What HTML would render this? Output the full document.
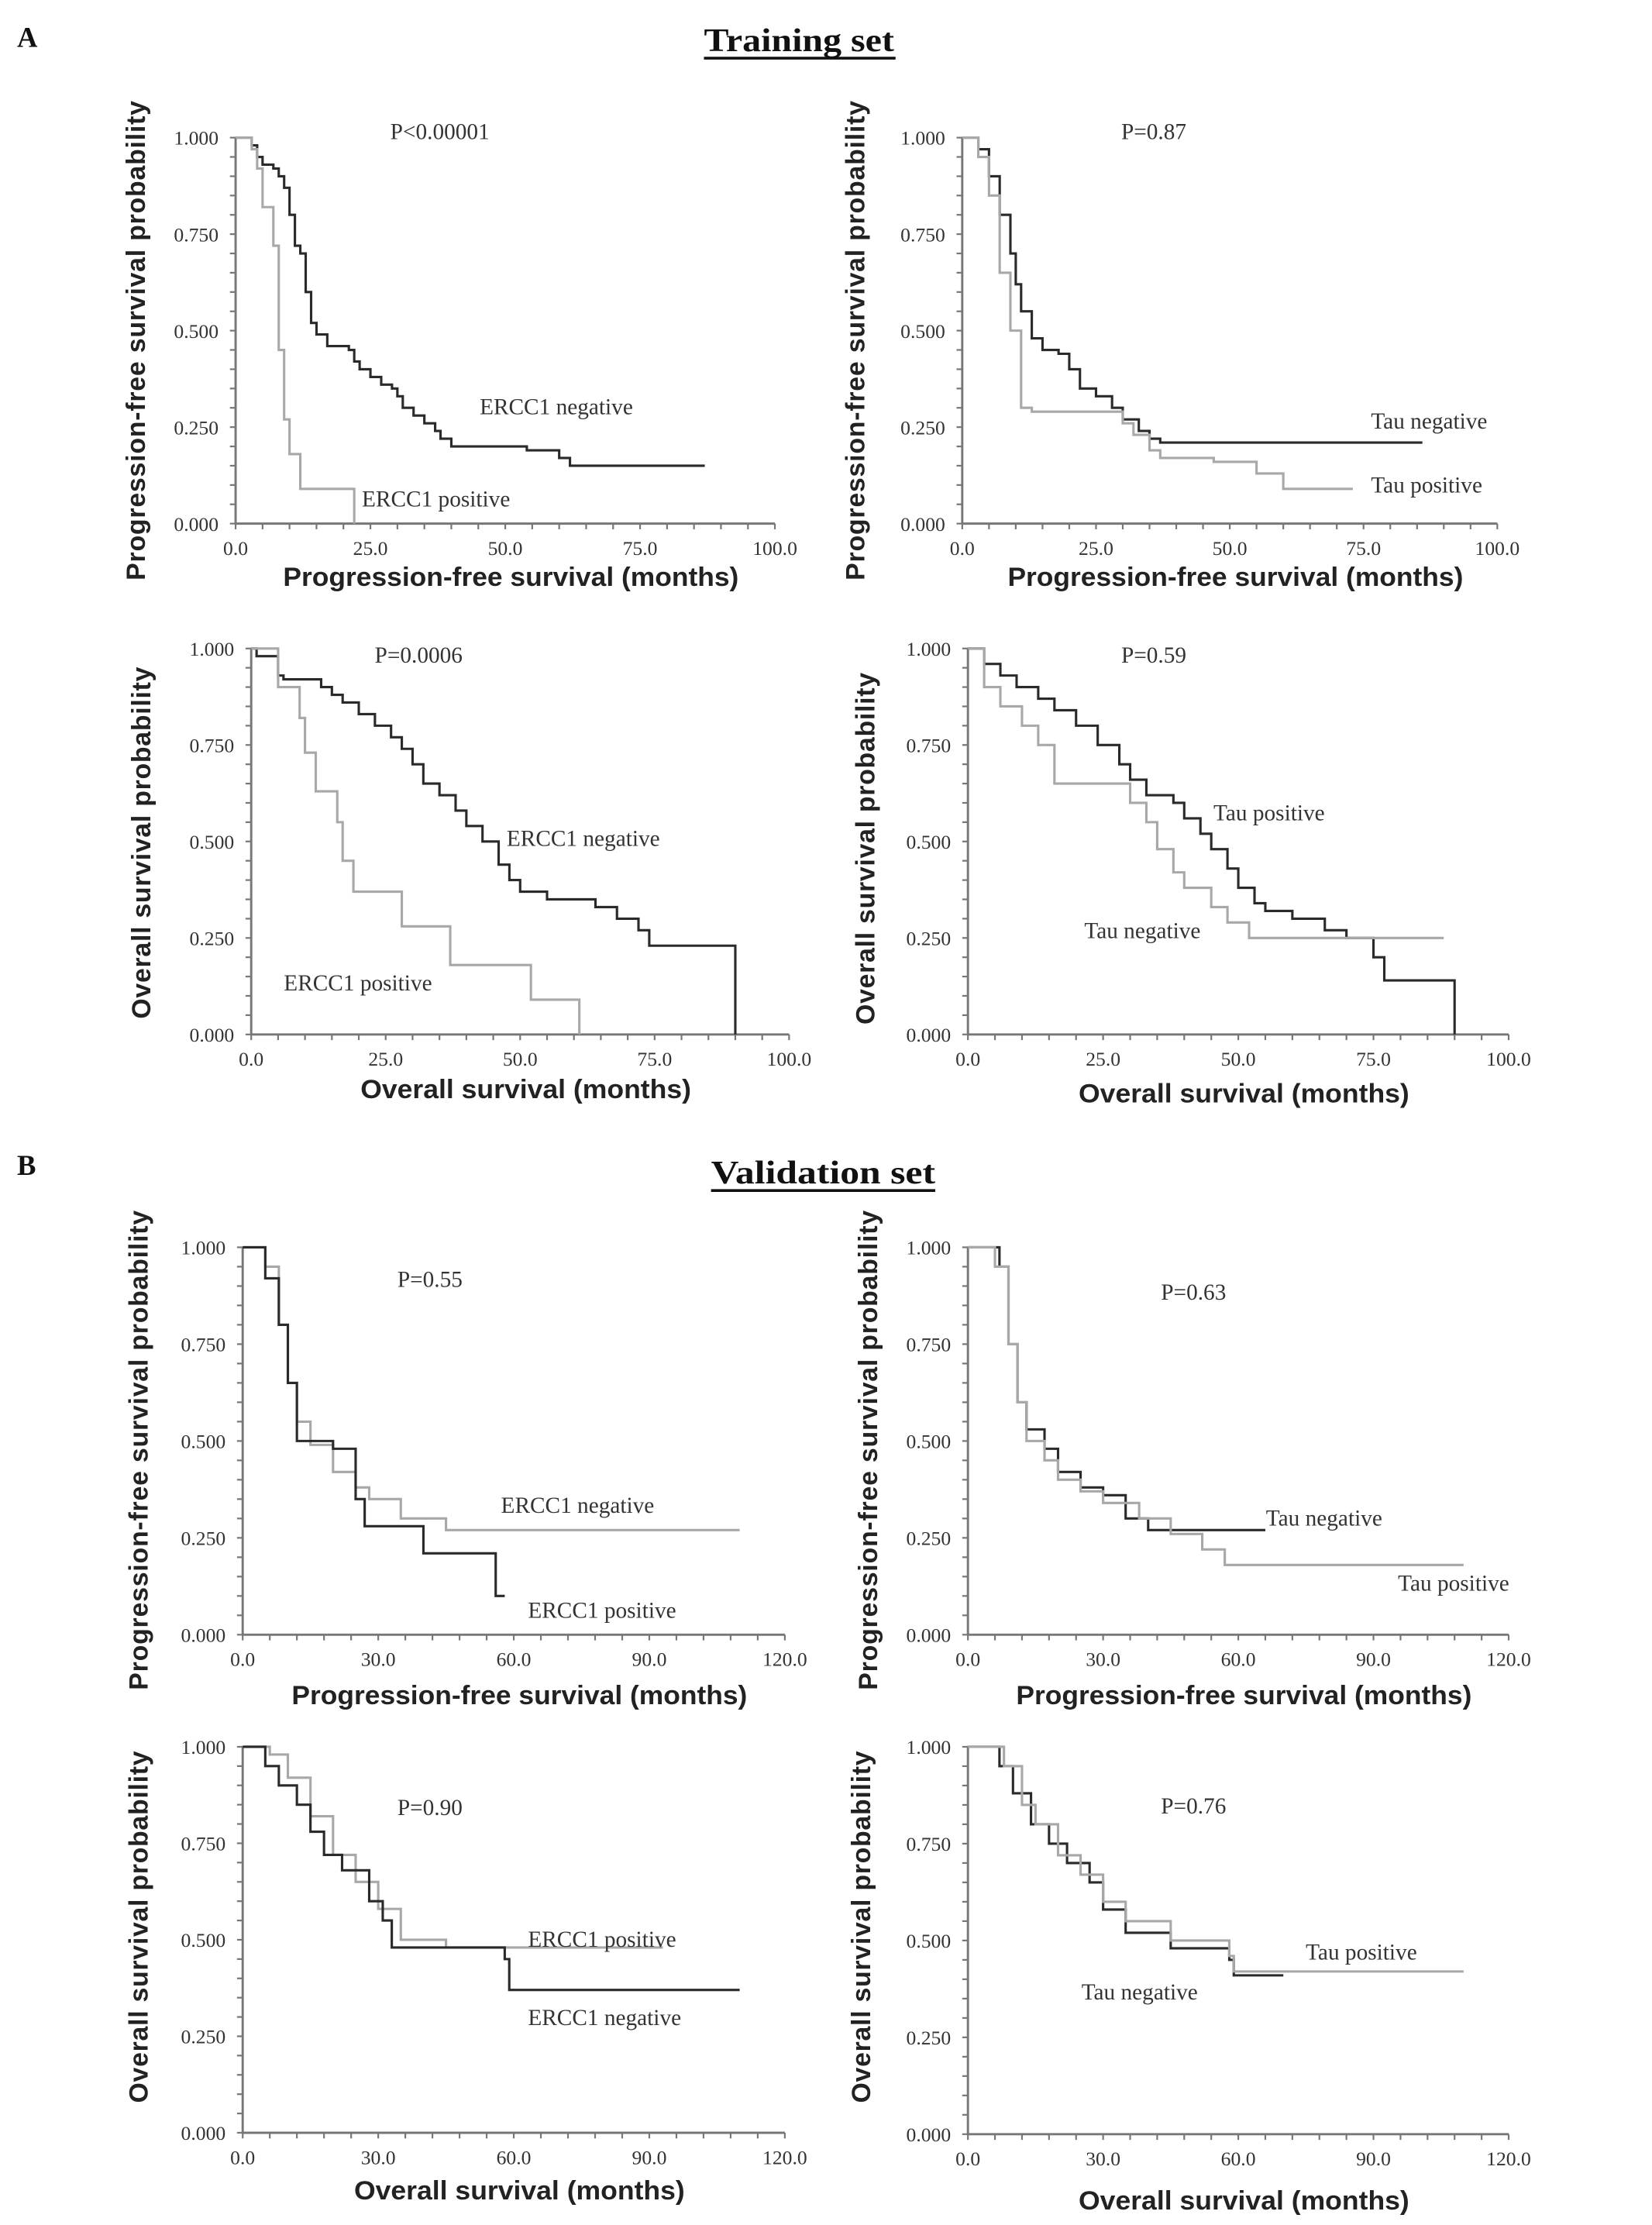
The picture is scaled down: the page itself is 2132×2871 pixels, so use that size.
<!DOCTYPE html>
<html><head><meta charset="utf-8"><style>
html,body{margin:0;padding:0;background:#fff}
svg{display:block}
.tick{font-family:"Liberation Serif",serif;font-size:14px;fill:#333}
.ax{font-family:"Liberation Sans",sans-serif;font-weight:bold;font-size:18.5px;fill:#222}
.lab{font-family:"Liberation Serif",serif;font-size:16px;fill:#333}
.hd{font-family:"Liberation Serif",serif;font-weight:bold;fill:#111}
</style></head><body>
<svg id="fig" width="2132" height="2871" viewBox="0 0 1164 1568" preserveAspectRatio="none">
<text class="hd" x="12" y="33" font-size="20">A</text>
<text class="hd" x="563" y="36" font-size="23" text-anchor="middle" textLength="134" lengthAdjust="spacingAndGlyphs">Training set</text>
<line x1="496" y1="41" x2="631" y2="41" stroke="#111" stroke-width="2"/>
<text class="hd" x="12" y="828" font-size="20">B</text>
<text class="hd" x="580" y="834" font-size="23" text-anchor="middle" textLength="158" lengthAdjust="spacingAndGlyphs">Validation set</text>
<line x1="501" y1="839" x2="659" y2="839" stroke="#111" stroke-width="2"/>
</svg>
<script>
// ---- data (time in months, survival probability) ----
const a1NegT=[0,3,4,5,7,8,9,10,11,12,13,14,15,17,21,22,23,25,27,29,30,31,33,35,37,38,40,54,60,62,87];
const a1NegS=[1,0.98,0.95,0.93,0.92,0.9,0.87,0.8,0.72,0.7,0.6,0.52,0.49,0.46,0.45,0.42,0.4,0.38,0.36,0.35,0.33,0.3,0.28,0.26,0.24,0.22,0.2,0.19,0.17,0.15,0.15];
const a1PosT=[0,3,4,5,7,8,9,10,12,22,22];
const a1PosS=[1,0.97,0.92,0.82,0.72,0.45,0.27,0.18,0.09,0.0,0.0];
const a2NegT=[0,3,5,7,9,10,11,13,15,18,20,22,25,28,30,33,35,37,86];
const a2NegS=[1,0.97,0.9,0.8,0.7,0.62,0.55,0.48,0.45,0.44,0.4,0.35,0.33,0.3,0.27,0.24,0.22,0.21,0.21];
const a2PosT=[0,3,5,7,9,11,13,30,32,35,37,47,55,60,73];
const a2PosS=[1,0.95,0.85,0.65,0.5,0.3,0.29,0.26,0.23,0.19,0.17,0.16,0.13,0.09,0.09];
const a3NegT=[0,1,5,6,13,15,17,20,23,26,28,30,32,35,38,40,43,46,48,50,55,64,68,72,74,90,90];
const a3NegS=[1,0.98,0.93,0.92,0.9,0.88,0.86,0.83,0.8,0.77,0.74,0.7,0.65,0.62,0.58,0.54,0.5,0.44,0.4,0.37,0.35,0.33,0.3,0.27,0.23,0.0,0.0];
const a3PosT=[0,5,9,10,12,16,17,19,28,37,52,61,61];
const a3PosS=[1,0.9,0.82,0.73,0.63,0.55,0.45,0.37,0.28,0.18,0.09,0.0,0.0];
const a4PosT=[0,3,6,9,13,16,20,24,28,30,33,38,40,43,45,48,50,53,55,60,66,70,75,77,90,90];
const a4PosS=[1,0.96,0.93,0.9,0.87,0.84,0.8,0.75,0.7,0.66,0.62,0.6,0.56,0.52,0.48,0.43,0.38,0.34,0.32,0.3,0.27,0.25,0.2,0.14,0.0,0.0];
const a4NegT=[0,3,6,10,13,16,30,33,35,38,40,45,48,52,88];
const a4NegS=[1,0.9,0.85,0.8,0.75,0.65,0.6,0.55,0.48,0.42,0.38,0.33,0.29,0.25,0.25];
const b1NegT=[0,5,8,10,12,15,20,25,28,35,45,110];
const b1NegS=[1,0.95,0.8,0.65,0.55,0.49,0.42,0.38,0.35,0.3,0.27,0.27];
const b1PosT=[0,5,8,10,12,20,25,27,40,56,58];
const b1PosS=[1,0.92,0.8,0.65,0.5,0.48,0.35,0.28,0.21,0.1,0.1];
const b2NegT=[0,7,9,11,13,17,20,25,30,35,40,66];
const b2NegS=[1,0.95,0.75,0.6,0.53,0.48,0.42,0.38,0.36,0.3,0.27,0.27];
const b2PosT=[0,6,9,11,13,17,20,25,30,38,45,52,57,110];
const b2PosS=[1,0.95,0.75,0.6,0.5,0.45,0.4,0.37,0.34,0.3,0.26,0.22,0.18,0.18];
const b3PosT=[0,6,10,15,20,25,30,35,45,93];
const b3PosS=[1,0.98,0.92,0.82,0.72,0.65,0.58,0.5,0.48,0.48];
const b3NegT=[0,5,8,12,15,18,22,28,31,33,58,59,110];
const b3NegS=[1,0.95,0.9,0.85,0.78,0.72,0.68,0.6,0.55,0.48,0.45,0.37,0.37];
const b4NegT=[0,7,10,14,18,22,27,30,35,45,58,59,70];
const b4NegS=[1,0.95,0.88,0.8,0.75,0.7,0.65,0.58,0.52,0.48,0.45,0.41,0.41];
const b4PosT=[0,8,12,15,20,25,30,35,45,58,59,110];
const b4PosS=[1,0.95,0.85,0.8,0.72,0.67,0.6,0.55,0.5,0.46,0.42,0.42];
const yTicks=["0.000","0.250","0.500","0.750","1.000"];
const xTicksA=["0.0","25.0","50.0","75.0","100.0"];
const xTicksB=["0.0","30.0","60.0","90.0","120.0"];

const DARK="#2a2a2a", GRAY="#a8a8a8";
const PFS="Progression-free survival (months)", OS="Overall survival (months)";
const PFSP="Progression-free survival probability", OSP="Overall survival probability";
const panels=[
 {id:"a1",x0:166,x1:546,y0:97,y1:369,max:100,xt:xTicksA,minor:20,xtitle:PFS,xty:413,ytitle:PFSP,ytx:102,ytc:240,p:"P<0.00001",px:275,py:98,
  series:[[a1NegT,a1NegS,DARK,"ERCC1 negative",338,292],[a1PosT,a1PosS,GRAY,"ERCC1 positive",255,357]]},
 {id:"a2",x0:678,x1:1055,y0:97,y1:369,max:100,xt:xTicksA,minor:20,xtitle:PFS,xty:413,ytitle:PFSP,ytx:609,ytc:240,p:"P=0.87",px:790,py:98,
  series:[[a2NegT,a2NegS,DARK,"Tau negative",966,302],[a2PosT,a2PosS,GRAY,"Tau positive",966,347]]},
 {id:"a3",x0:177,x1:556,y0:457,y1:729,max:100,xt:xTicksA,minor:20,xtitle:OS,xty:774,ytitle:OSP,ytx:106,ytc:594,p:"P=0.0006",px:264,py:467,
  series:[[a3NegT,a3NegS,DARK,"ERCC1 negative",357,596],[a3PosT,a3PosS,GRAY,"ERCC1 positive",200,698]]},
 {id:"a4",x0:682,x1:1063,y0:457,y1:729,max:100,xt:xTicksA,minor:20,xtitle:OS,xty:777,ytitle:OSP,ytx:616,ytc:598,p:"P=0.59",px:790,py:467,
  series:[[a4PosT,a4PosS,DARK,"Tau positive",855,578],[a4NegT,a4NegS,GRAY,"Tau negative",764,661]]},
 {id:"b1",x0:171,x1:553,y0:879,y1:1152,max:120,xt:xTicksB,minor:20,xtitle:PFS,xty:1201,ytitle:PFSP,ytx:104,ytc:1022,p:"P=0.55",px:280,py:907,
  series:[[b1NegT,b1NegS,GRAY,"ERCC1 negative",353,1066],[b1PosT,b1PosS,DARK,"ERCC1 positive",372,1140]]},
 {id:"b2",x0:682,x1:1063,y0:879,y1:1152,max:120,xt:xTicksB,minor:20,xtitle:PFS,xty:1201,ytitle:PFSP,ytx:618,ytc:1022,p:"P=0.63",px:818,py:916,
  series:[[b2NegT,b2NegS,DARK,"Tau negative",892,1075],[b2PosT,b2PosS,GRAY,"Tau positive",985,1121]]},
 {id:"b3",x0:171,x1:553,y0:1231,y1:1503,max:120,xt:xTicksB,minor:20,xtitle:OS,xty:1550,ytitle:OSP,ytx:104,ytc:1358,p:"P=0.90",px:280,py:1279,
  series:[[b3PosT,b3PosS,GRAY,"ERCC1 positive",372,1372],[b3NegT,b3NegS,DARK,"ERCC1 negative",372,1427]]},
 {id:"b4",x0:682,x1:1063,y0:1231,y1:1504,max:120,xt:xTicksB,minor:20,xtitle:OS,xty:1557,ytitle:OSP,ytx:613,ytc:1358,p:"P=0.76",px:818,py:1278,
  series:[[b4NegT,b4NegS,DARK,"Tau negative",762,1409],[b4PosT,b4PosS,GRAY,"Tau positive",920,1381]]}
];
const NS="http://www.w3.org/2000/svg";
const svg=document.getElementById("fig");
function mk(tag,attrs,parent){const e=document.createElementNS(NS,tag);for(const k in attrs)e.setAttribute(k,attrs[k]);(parent||svg).appendChild(e);return e;}
panels.forEach(p=>{
  const g=mk("g",{});
  
  
  const sx=v=>p.x0+(v/p.max)*(p.x1-p.x0);
  const sy=v=>p.y1-v*(p.y1-p.y0);
  mk("line",{x1:p.x0,y1:p.y0,x2:p.x0,y2:p.y1,stroke:"#777","stroke-width":1.6},g);
  mk("line",{x1:p.x0,y1:p.y1,x2:p.x1,y2:p.y1,stroke:"#777","stroke-width":1.6},g);
  for(let i=0;i<=20;i++){const y=sy(i/20);mk("line",{x1:p.x0-4,y1:y,x2:p.x0,y2:y,stroke:"#777","stroke-width":1.2},g);}
  for(let i=0;i<=p.minor;i++){const x=sx(i*p.max/p.minor);mk("line",{x1:x,y1:p.y1,x2:x,y2:p.y1+4,stroke:"#777","stroke-width":1.2},g);}
  yTicks.forEach((t,i)=>{const e=mk("text",{x:p.x0-12,y:sy(i/4)+5,"text-anchor":"end",class:"tick"},g);e.textContent=t;
    
    });
  p.xt.forEach((t,i)=>{const e=mk("text",{x:sx(i*p.max/4),y:p.y1+22,"text-anchor":"middle",class:"tick"},g);e.textContent=t;
    
    });
  const xl=p.xtitle===PFS?321:233;
  const xt=mk("text",{x:(p.x0+p.x1)/2+4,y:p.xty,"text-anchor":"middle",class:"ax",textLength:xl,lengthAdjust:"spacingAndGlyphs"},g);xt.textContent=p.xtitle;
  
  
  const yl=p.ytitle===PFSP?338:248;
  const yt=mk("text",{x:0,y:0,"text-anchor":"middle",class:"ax",textLength:yl,lengthAdjust:"spacing",transform:`translate(${p.ytx},${p.ytc}) rotate(-90)`},g);yt.textContent=p.ytitle;
  
  
  const pt=mk("text",{x:p.px,y:p.py,class:"lab"},g);pt.textContent=p.p;
  
  
  p.series.forEach(s=>{
    const [T,S,col,name,lx,ly]=s;
    let d="M"+sx(T[0])+","+sy(S[0]);
    for(let i=1;i<T.length;i++){d+=" H"+sx(T[i])+" V"+sy(S[i]);}
    const path=mk("path",{d:d,fill:"none",stroke:col,"stroke-width":1.7},g);
    
    
    const l=mk("text",{x:lx,y:ly,class:"lab"},g);l.textContent=name;
    
    
  });
});
</script>
</body></html>
